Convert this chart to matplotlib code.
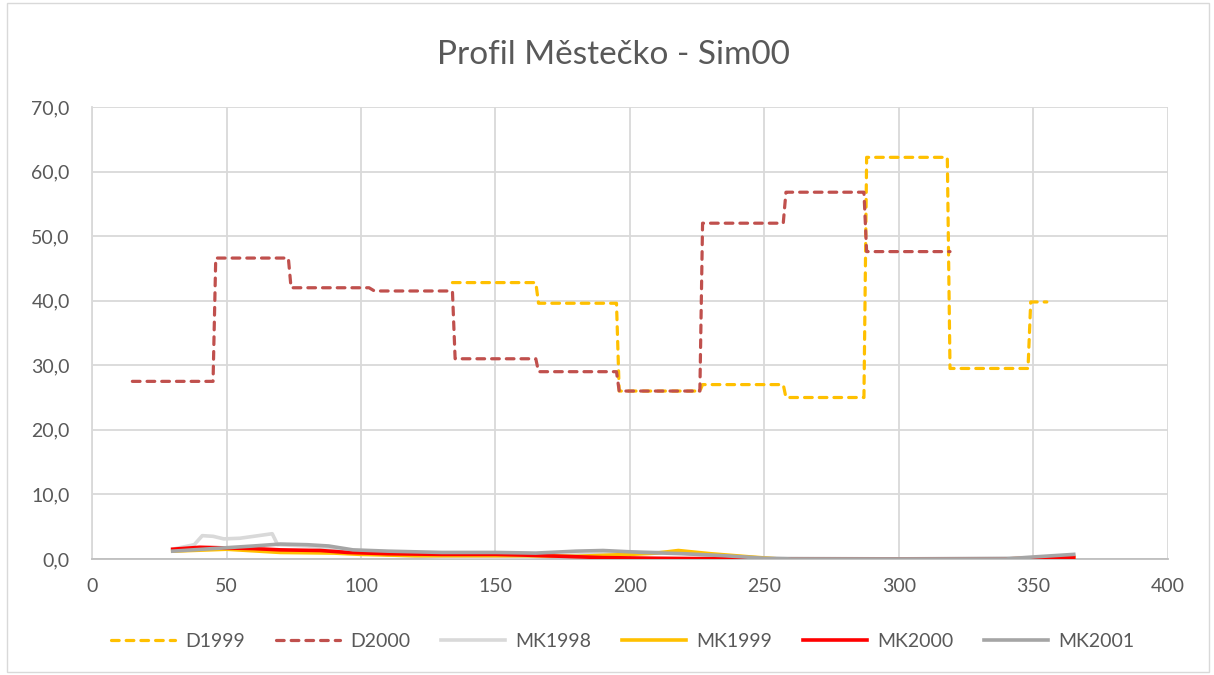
import matplotlib
matplotlib.use("Agg")
import matplotlib.pyplot as plt
from matplotlib.ticker import FuncFormatter
from matplotlib.patches import Rectangle

plt.rcParams['font.family'] = ['Lato', 'DejaVu Sans']

title = "Profil Městečko - Sim00"

# D2000 step corners (day, value)
d2000_x = [15, 45, 46, 73, 74, 103, 105, 134, 135, 165, 166, 195, 196, 226, 227, 257, 258, 287, 288, 319]
d2000_y = [27.5, 27.5, 46.6, 46.6, 42.0, 42.0, 41.5, 41.5, 31.0, 31.0, 29.0, 29.0, 26.0, 26.0, 52.0, 52.0, 56.8, 56.8, 47.6, 47.6]

# D1999 step corners (day, value)
d1999_x = [134, 165, 166, 195, 196, 226, 227, 257, 258, 287, 288, 318, 319, 348, 349, 355]
d1999_y = [42.8, 42.8, 39.6, 39.6, 26.0, 26.0, 27.0, 27.0, 25.0, 25.0, 62.2, 62.2, 29.5, 29.5, 39.8, 39.8]

# MK series (day, value)
mk1998_x = [30, 38, 41, 45, 49, 55, 67, 69, 80, 95, 110, 130, 160, 190, 200, 215, 235, 250, 300, 350, 365]
mk1998_y = [1.5, 2.2, 3.6, 3.5, 3.1, 3.2, 3.9, 2.2, 2.0, 1.4, 0.6, 0.3, 0.2, 0.8, 1.1, 1.0, 0.4, 0.1, 0.0, 0.2, 0.5]

mk1999_x = [30, 50, 70, 90, 100, 120, 140, 160, 180, 200, 210, 218, 230, 245, 255, 270, 340, 365]
mk1999_y = [1.2, 1.5, 1.0, 0.9, 0.7, 0.5, 0.5, 0.5, 0.4, 0.7, 0.9, 1.3, 0.8, 0.3, 0.0, 0.0, 0.0, 0.2]

mk2000_x = [30, 40, 50, 60, 70, 85, 95, 110, 130, 150, 160, 175, 190, 210, 240, 340, 350, 365]
mk2000_y = [1.5, 1.8, 1.7, 1.6, 1.4, 1.3, 1.0, 0.8, 0.7, 0.7, 0.6, 0.4, 0.2, 0.1, 0.0, 0.0, 0.1, 0.2]

mk2001_x = [30, 45, 60, 70, 80, 88, 97, 110, 130, 150, 165, 180, 190, 205, 220, 235, 250, 260, 340, 350, 365]
mk2001_y = [1.2, 1.6, 2.0, 2.3, 2.2, 2.0, 1.4, 1.2, 1.0, 1.0, 0.9, 1.2, 1.3, 1.0, 0.8, 0.5, 0.1, 0.0, 0.0, 0.3, 0.7]

x_ticks = [0, 50, 100, 150, 200, 250, 300, 350, 400]
y_ticks = [0, 10, 20, 30, 40, 50, 60, 70]

fig = plt.figure(figsize=(12.14, 6.75), dpi=100)
ax = fig.add_axes([0.0758, 0.172, 0.8862, 0.6695])

txt = '#595959'
grid = '#D9D9D9'

lw_d = 2.3
ax.plot(d1999_x, d1999_y, color='#FFC000', lw=lw_d, linestyle=(0, (2.4, 2.2)), dash_capstyle='round', label='D1999', zorder=3)
ax.plot(d2000_x, d2000_y, color='#C0504D', lw=lw_d, linestyle=(0, (2.4, 2.2)), dash_capstyle='round', label='D2000', zorder=3)
lw_m = 2.6
ax.plot(mk1998_x, mk1998_y, color='#D9D9D9', lw=lw_m, label='MK1998', zorder=3, solid_joinstyle='round')
ax.plot(mk1999_x, mk1999_y, color='#FFC000', lw=lw_m, label='MK1999', zorder=4, solid_joinstyle='round')
ax.plot(mk2000_x, mk2000_y, color='#FF0000', lw=lw_m, label='MK2000', zorder=5, solid_joinstyle='round')
ax.plot(mk2001_x, mk2001_y, color='#A5A5A5', lw=lw_m, label='MK2001', zorder=6, solid_joinstyle='round')

ax.set_xlim(0, 400)
ax.set_ylim(0, 70)
ax.set_xticks(x_ticks)
ax.set_yticks(y_ticks)
ax.yaxis.set_major_formatter(FuncFormatter(lambda v, p: f"{v:.1f}".replace('.', ',')))
ax.grid(True, color=grid, lw=1.3, zorder=0)
for s in ['top', 'right']:
    ax.spines[s].set_visible(False)
ax.spines['left'].set_color(grid)
ax.spines['left'].set_linewidth(1.3)
ax.spines['bottom'].set_color('#BFBFBF')
ax.spines['bottom'].set_linewidth(1.3)
ax.tick_params(length=0, colors=txt, labelsize=14)
ax.tick_params(axis='x', pad=14)
ax.tick_params(axis='y', pad=16)

fig.text(0.505, 0.918, title, ha='center', va='center', fontsize=24, color=txt)

leg = fig.legend(loc='center', bbox_to_anchor=(0.513, 0.050), ncol=6, frameon=False,
                 fontsize=14, handlelength=3.3, columnspacing=1.6, handletextpad=0.5)
for t in leg.get_texts():
    t.set_color(txt)

fig.patches.append(Rectangle((0.006, 0.004), 0.99, 0.992, transform=fig.transFigure,
                             fill=False, edgecolor='#D9D9D9', lw=1.0))

fig.savefig('out.png', dpi=100)
